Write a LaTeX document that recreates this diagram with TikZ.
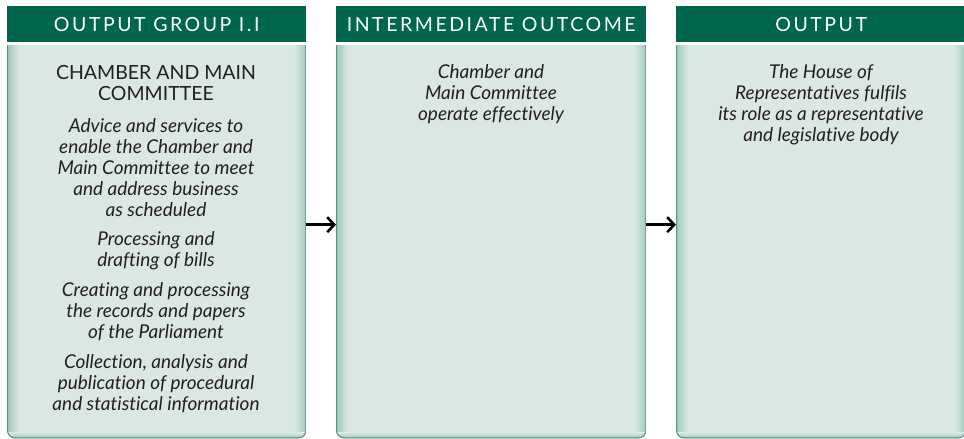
\documentclass[tikz,border=0pt]{standalone}
\usepackage{fontspec}
\setmainfont{Lato}[Ligatures=NoCommon]
\usetikzlibrary{arrows.meta}

\definecolor{headgreen}{RGB}{0,102,77}
\definecolor{panelfill}{RGB}{218,231,227}
\definecolor{paneledge}{RGB}{160,200,188}
\definecolor{panelline}{RGB}{78,150,128}
\definecolor{bodytext}{RGB}{35,31,32}

\tikzset{
  header/.style={fill=headgreen, text=white, inner sep=0pt, anchor=north west,
    minimum height=36pt, font=\fontsize{19.5}{19.5}\selectfont\addfontfeature{LetterSpace=13}},
  panel/.style={inner sep=0pt, anchor=north west, minimum height=393pt},
  body/.style={text=bodytext, align=center, inner sep=0pt, anchor=base,
    font=\fontsize{19}{21}\selectfont\itshape},
  boxtitle/.style={body, font=\fontsize{19.5}{21}\selectfont},
  flow/.style={-{Straight Barb[length=7pt,width=15pt]}, line width=2.6pt, black}
}

% light panel with shaded sides and rounded bottom corners
\newcommand\panelbg[1]{%
  \begin{scope}
    \clip (#1.north west) rectangle ([yshift=-5pt]#1.south east);
    \clip[rounded corners=8pt] ([yshift=10pt]#1.north west) rectangle (#1.south east);
    \fill[panelfill] (#1.north west) rectangle (#1.south east);
    \shade[left color=paneledge, right color=panelfill] (#1.north west) rectangle ([xshift=12pt]#1.south west);
    \shade[left color=panelfill, right color=paneledge] ([xshift=-12pt]#1.north east) rectangle (#1.south east);
    \shade[top color=panelfill, bottom color=paneledge] ([yshift=6pt]#1.south west) rectangle (#1.south east);
    \draw[panelline, line width=2pt, rounded corners=8pt] ([yshift=10pt]#1.north west) rectangle (#1.south east);
  \end{scope}}

\begin{document}
\begin{tikzpicture}[x=1pt,y=-1pt]
  \useasboundingbox (0,0) rectangle (964,439);

  % headers
  \node[header, minimum width=299pt] (grphead) at (7,6) {OUTPUT GROUP I.I};
  \node[header, minimum width=310pt] (midhead) at (336,6) {INTERMEDIATE OUTCOME};
  \node[header, minimum width=290pt] (outhead) at (676,6) {OUTPUT};

  % panels
  \node[panel, minimum width=299pt] (grpbox) at (7,45) {};
  \node[panel, minimum width=310pt] (midbox) at (336,45) {};
  \node[panel, minimum width=290pt] (outbox) at (676,45) {};
  \panelbg{grpbox}
  \panelbg{midbox}
  \panelbg{outbox}

  % output group text (base = last line)
  \node[boxtitle] (grptitle) at (156,100) {CHAMBER AND MAIN\\COMMITTEE};
  \node[body] (grpadvice) at (156,216) {Advice and services to\\enable the Chamber and\\Main Committee to meet\\and address business\\as scheduled};
  \node[body] (grpbills) at (156,266) {Processing and\\drafting of bills};
  \node[body] (grprecords) at (156,338) {Creating and processing\\the records and papers\\of the Parliament};
  \node[body] (grpinfo) at (156,410) {Collection, analysis and\\publication of procedural\\and statistical information};

  \node[body] (midtext) at (491,120) {Chamber and\\Main Committee\\operate effectively};
  \node[body] (outtext) at (821,141) {The House of\\Representatives fulfils\\its role as a representative\\and legislative body};

  % arrows
  \draw[flow] ([yshift=17pt]grpbox.east) -- ([yshift=17pt]midbox.west);
  \draw[flow] ([yshift=17pt]midbox.east) -- ([yshift=17pt]outbox.west);
\end{tikzpicture}
\end{document}
